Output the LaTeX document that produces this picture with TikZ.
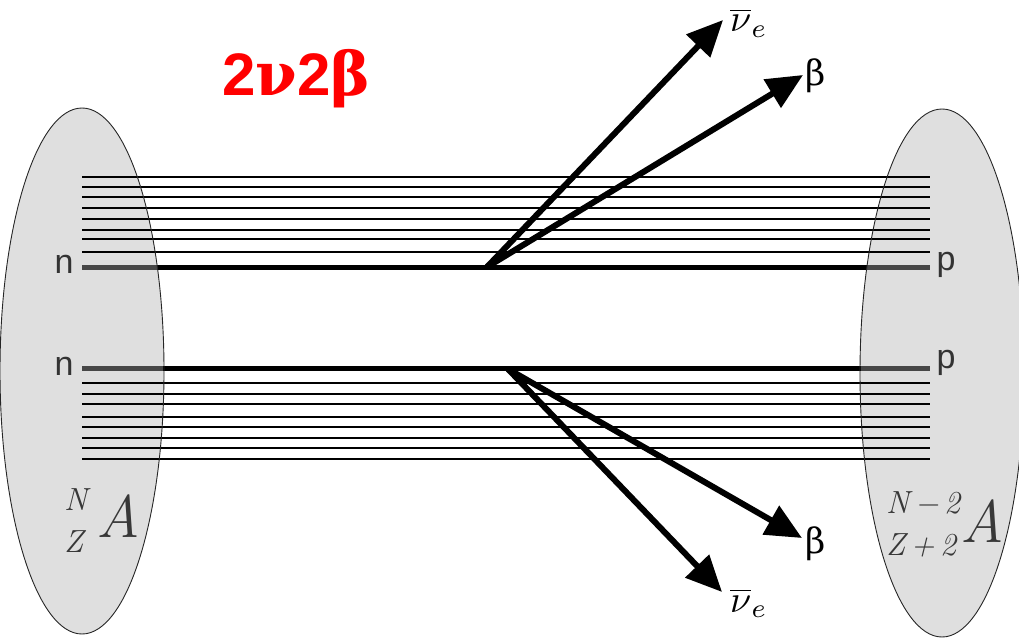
\documentclass[tikz,border=0pt]{standalone}
\usepackage{fontspec}
\usepackage{graphicx}
\newfontfamily\labsans{Liberation Sans}
\newfontfamily\grkserif{DejaVu Serif}
\usetikzlibrary{arrows.meta}
\newcommand{\antinu}{\scalebox{3.8}{$\overline{\nu}_{e}$}}
\begin{document}
\begin{tikzpicture}[x=1pt,y=-1pt,
  thinline/.style={line width=1.6pt, draw=black},
  thickline/.style={line width=5pt, draw=black},
  graypart/.style={line width=5pt, draw=black!72},
  emit/.style={line width=6pt, draw=black, -{Triangle[length=36pt,width=32pt]}},
  nuc/.style={fill=gray!25, draw=none},
  nucrim/.style={draw=black!85, line width=0.9pt},
  letter/.style={font=\labsans\fontsize{34}{34}\selectfont, inner sep=0pt, text=black!80, anchor=base},
  iso/.style={font=\rmfamily\fontsize{32}{32}\selectfont\itshape, inner sep=0pt, text=black!78, anchor=base west},
  isobig/.style={font=\rmfamily\fontsize{60}{60}\selectfont\itshape, inner sep=0pt, text=black!78, anchor=base west},
  partlab/.style={font=\grkserif\fontsize{35}{35}\selectfont, inner sep=0pt, anchor=base west},
  nulab/.style={inner sep=0pt, anchor=base west},
  title/.style={font=\labsans\bfseries\fontsize{60}{60}\selectfont, text=red, inner sep=0pt, anchor=base west}
]
\useasboundingbox (0,0) rectangle (1019,639);
% nuclei (fill)
\path[nuc] (82,371) ellipse [x radius=82, y radius=263];
\path[nuc] (942,373) ellipse [x radius=82, y radius=264];
% thin nucleon lines
\foreach \yy in {177,187,197,208,219,230,239,252,383,394,404,417,427,438,448,459}
  \draw[thinline] (82,\yy) -- (930,\yy);
% thick lines
\coordinate (n1) at (82,267);
\coordinate (p1) at (930,267);
\coordinate (n2) at (82,368);
\coordinate (p2) at (930,368);
\draw[thickline] (n1) -- (p1);
\draw[thickline] (n2) -- (p2);
\draw[graypart] (82,267) -- (157,267);
\draw[graypart] (867,267) -- (930,267);
\draw[graypart] (82,368) -- (163,368);
\draw[graypart] (861,368) -- (930,368);
% nuclei rims
\draw[nucrim] (82,371) ellipse [x radius=82, y radius=263];
\draw[nucrim] (942,373) ellipse [x radius=82, y radius=264];
% vertices and emissions
\coordinate (v1) at (487,267);
\coordinate (v2) at (508,369);
\coordinate (t1) at (723,20);
\coordinate (t2) at (803,75);
\coordinate (t3) at (802,538);
\coordinate (t4) at (722,592);
\draw[emit] (v1) -- (t1);
\draw[emit] (v1) -- (t2);
\draw[emit] (v2) -- (t3);
\draw[emit] (v2) -- (t4);
% labels
\node[title] (ttl) at (222,96) {2{\grkserif\bfseries ν}2{\grkserif β}};
\node[letter] (ln1) at (64,273) {n};
\node[letter] (ln2) at (64,375) {n};
\node[letter] (lp1) at (946,270) {p};
\node[letter] (lp2) at (946,368) {p};
\node[partlab] (b1) at (805,86) {β};
\node[partlab] (b2) at (805,553) {β};
\node[nulab] (nu1) at (730,32) {\antinu};
\node[nulab] (nu2) at (730,612) {\antinu};
\node[iso] (lN) at (64,510) {N};
\node[iso] (lZ) at (64,552) {Z};
\node[isobig] (lA) at (96,537) {A};
\node[iso] (rN) at (886,513) {N\,−\,2};
\node[iso] (rZ) at (886,555) {Z\,+\,2};
\node[isobig] (rA) at (960,542) {A};
\end{tikzpicture}
\end{document}
